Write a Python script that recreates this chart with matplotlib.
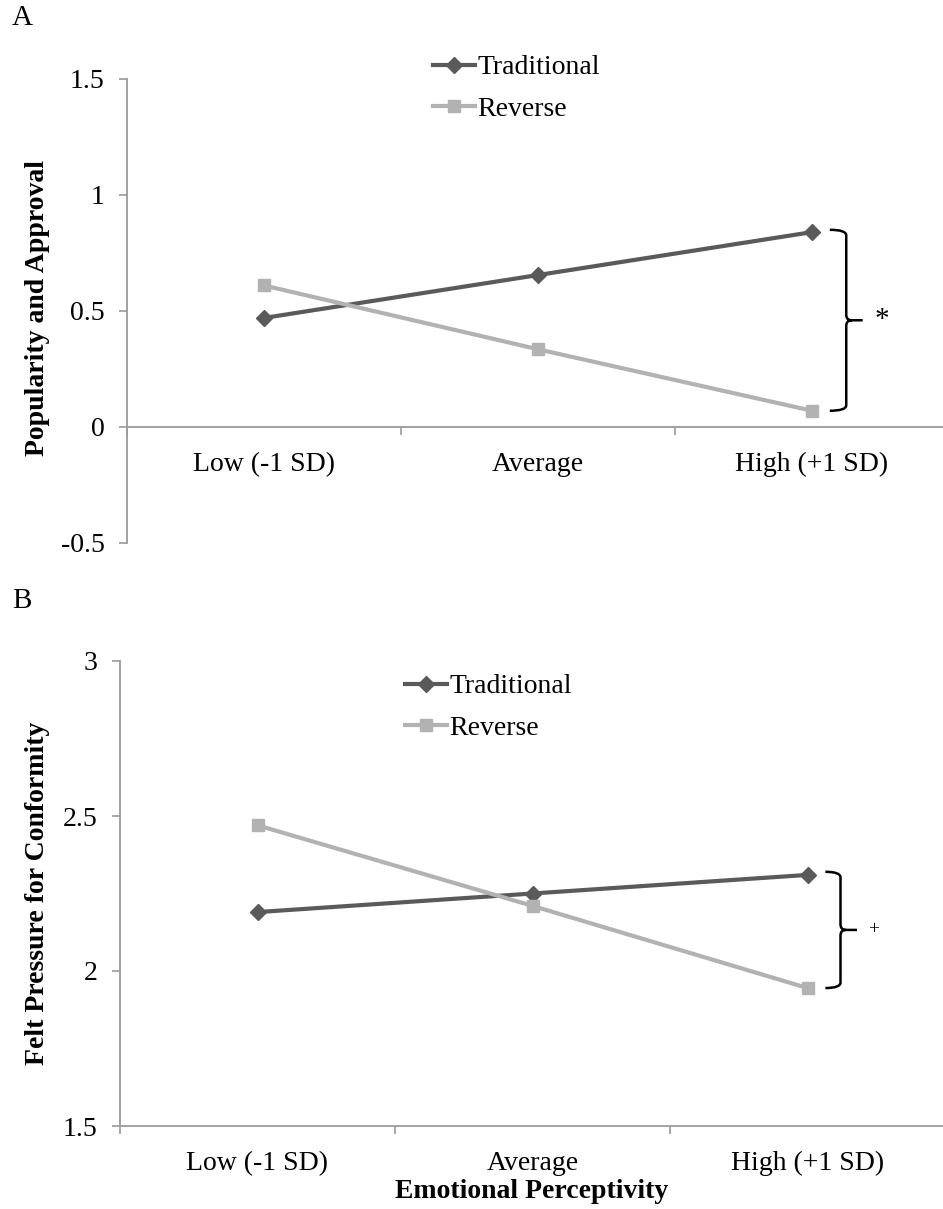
import numpy as np
import matplotlib.pyplot as plt
from matplotlib.path import Path
from matplotlib.patches import PathPatch

plt.rcParams['font.family'] = ['Liberation Serif', 'DejaVu Serif']

# data
categories = ['Low (-1 SD)', 'Average', 'High (+1 SD)']
series_names = ['Traditional', 'Reverse']

trad_a = [0.47, 0.655, 0.84]
rev_a = [0.61, 0.335, 0.07]
yticks_a = [-0.5, 0, 0.5, 1, 1.5]
yticklabels_a = ['-0.5', '0', '0.5', '1', '1.5']

trad_b = [2.19, 2.25, 2.31]
rev_b = [2.47, 2.21, 1.945]
yticks_b = [1.5, 2, 2.5, 3]
yticklabels_b = ['1.5', '2', '2.5', '3']

sig_a = '*'
sig_b = '+'

W, H = 943, 1209
fig = plt.figure(figsize=(W / 100, H / 100), dpi=100)

dark = '#5a5a5a'
light = '#b2b2b2'
axis_col = '#9a9a9a'


def brace(ax, x0, x1, x2, ytop, ybot, r):
    ymid = (ytop + ybot) / 2
    verts = [(x0, ytop), (x1, ytop), (x1, ytop - r),
             (x1, ymid + r), (x1, ymid), (x1 + 0.02, ymid),
             (x2, ymid),
             (x1 + 0.02, ymid), (x1, ymid), (x1, ymid - r),
             (x1, ybot + r), (x1, ybot), (x0, ybot)]
    codes = [Path.MOVETO, Path.CURVE3, Path.CURVE3,
             Path.LINETO, Path.CURVE3, Path.CURVE3,
             Path.LINETO,
             Path.MOVETO, Path.CURVE3, Path.CURVE3,
             Path.LINETO, Path.CURVE3, Path.CURVE3]
    ax.add_patch(PathPatch(Path(verts, codes), fill=False, color='black',
                           lw=1.8, clip_on=False))
    return ymid


def setup(ax, trad, rev, yticks, yticklabels, ylim, leg_xy, bottom_at):
    x = np.arange(1, len(categories) + 1)
    ax.plot(x, trad, color=dark, lw=3, marker='D', ms=8, label=series_names[0],
            clip_on=False, zorder=3)
    ax.plot(x, rev, color=light, lw=3, marker='s', ms=9, label=series_names[1],
            clip_on=False, zorder=3)
    ax.set_xlim(0.5, len(categories) + 0.5)
    ax.set_ylim(*ylim)
    ax.set_yticks(yticks)
    ax.set_yticklabels(yticklabels)
    ax.set_xticks(x)
    ax.set_xticklabels(categories)
    ax.set_xticks(np.arange(0.5, len(categories) + 1), minor=True)
    for s in ['top', 'right']:
        ax.spines[s].set_visible(False)
    for s in ['left', 'bottom']:
        ax.spines[s].set_color(axis_col)
        ax.spines[s].set_linewidth(1.3)
    ax.spines['bottom'].set_position(('data', bottom_at))
    ax.tick_params(axis='y', direction='out', length=6, width=1.2,
                   color=axis_col, labelsize=20, pad=10)
    ax.tick_params(axis='x', which='major', length=0, labelsize=20, pad=18)
    ax.tick_params(axis='x', which='minor', direction='out', length=6,
                   width=1.2, color=axis_col)
    ax.legend(frameon=False, loc='upper left', bbox_to_anchor=leg_xy,
              bbox_transform=fig.transFigure, fontsize=20, handlelength=1.5,
              handletextpad=0.1, labelspacing=0.58, borderpad=0,
              borderaxespad=0)


# panel A
ax_a = fig.add_axes([127 / W, 1 - 543 / H, 822 / W, 464 / H])
setup(ax_a, trad_a, rev_a, yticks_a, yticklabels_a, (-0.5, 1.5),
      (433 / W, 1 - 55 / H), 0)
mid = brace(ax_a, 3.065, 3.125, 3.185, trad_a[2] + 0.01, rev_a[2], 0.024)
ax_a.text(3.255, mid, sig_a, fontsize=21, ha='center', va='center')

# panel B
ax_b = fig.add_axes([120 / W, 1 - 1126 / H, 825 / W, 465 / H])
setup(ax_b, trad_b, rev_b, yticks_b, yticklabels_b, (1.5, 3),
      (405 / W, 1 - 674 / H), 1.5)
mid = brace(ax_b, 3.065, 3.12, 3.18, trad_b[2] + 0.01, rev_b[2], 0.018)
ax_b.text(3.24, mid, sig_b, fontsize=14, ha='center', va='center')

fig.text(38 / W, 1 - 308 / H, 'Popularity and Approval', rotation=90,
         fontsize=20, fontweight='bold', ha='center', va='center')
fig.text(38 / W, 1 - 893 / H, 'Felt Pressure for Conformity', rotation=90,
         fontsize=20, fontweight='bold', ha='center', va='center')
fig.text(532 / W, 1 - 1192 / H, 'Emotional Perceptivity', fontsize=20,
         fontweight='bold', ha='center', va='center')
fig.text(12 / W, 1 - 18 / H, 'A', fontsize=21, ha='left', va='center')
fig.text(12 / W, 1 - 601 / H, 'B', fontsize=21, ha='left', va='center')

fig.savefig('out.png', dpi=100)
